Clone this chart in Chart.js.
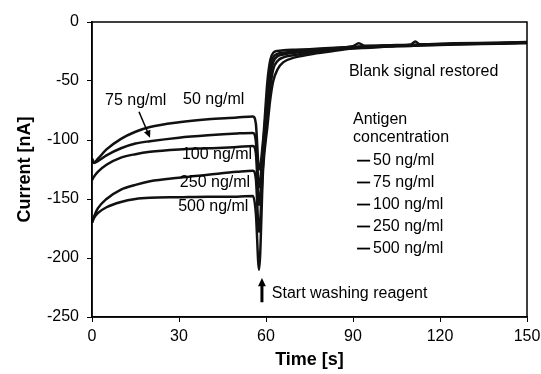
<!DOCTYPE html>
<html>
<head>
<meta charset="utf-8">
<script src="https://cdn.jsdelivr.net/npm/chart.js@4"></script>
<style>
body { margin: 0; background: #fff; }
#wrap { width: 541px; height: 374px; }
</style>
</head>
<body>
<div id="wrap"><canvas id="myChart" width="541" height="374"></canvas></div>
<script>
// time points shared by every curve (s)
var times = [0, 0.7, 2, 5, 10, 15, 20, 30, 40, 50, 55.5, 56.5, 57.6, 59, 60.5, 61.5, 62.5, 64, 66, 70, 75, 82, 90, 92, 94, 105, 110, 111.5, 113, 125, 140, 150];

// current (nA) for each antigen concentration
var conc50  = [-116, -119, -116, -108, -99, -93, -89, -85, -82.5, -81, -80, -86, -125, -100, -50, -32, -26, -24.5, -24, -23.5, -23, -22, -20.5, -18, -20.2, -19.5, -19, -16.5, -18.8, -18, -17.5, -17];
var conc75  = [-116, -119.5, -118, -113, -107, -103, -101, -98, -96, -94.5, -94, -101, -140, -105, -60, -38, -30, -27, -26, -25, -24, -22.5, -21, -20.7, -20.5, -19.8, -19.5, -19.3, -19.2, -18.5, -17.8, -17.3];
var conc100 = [-134, -131, -127, -121, -115, -112, -110, -108, -107, -106, -105, -111, -155, -110, -70, -45, -34, -29, -27.5, -26, -25, -23, -21.5, -21.2, -21, -20, -19.7, -19.5, -19.4, -18.7, -18, -17.5];
var conc250 = [-170, -165, -158, -150, -142, -138, -135, -132, -129.5, -127, -126, -133, -178, -120, -80, -55, -40, -33, -30, -28, -26, -24, -22, -21.7, -21.5, -20.3, -20, -19.8, -19.6, -18.9, -18.2, -17.7];
var conc500 = [-170, -166, -162, -157, -152.5, -150, -149, -148.5, -148, -148, -147.5, -162, -210, -125, -88, -65, -50, -40, -34, -30, -27.5, -25, -22.5, -22.2, -22, -20.6, -20.3, -20.1, -19.9, -19.1, -18.4, -17.9];

var seriesLabels = ['50 ng/ml', '75 ng/ml', '100 ng/ml', '250 ng/ml', '500 ng/ml'];
var seriesValues = [conc50, conc75, conc100, conc250, conc500];

var xTicks = [0, 30, 60, 90, 120, 150];
var yTicks = [0, -50, -100, -150, -200, -250];

var textFont = '16px "Liberation Sans", Arial, sans-serif';

// text notes placed in data coordinates (s, nA)
var notes = [
    { text: '75 ng/ml', x: 4.5, y: -66.5 },
    { text: '50 ng/ml', x: 31.4, y: -66 },
    { text: '100 ng/ml', x: 31, y: -112.7 },
    { text: '250 ng/ml', x: 30.3, y: -136.4 },
    { text: '500 ng/ml', x: 29.7, y: -156.8 },
    { text: 'Blank signal restored', x: 88.6, y: -42.4 },
    { text: 'Antigen', x: 90, y: -83 },
    { text: 'concentration', x: 90, y: -98.3 },
    { text: 'Start washing reagent', x: 62, y: -230.5 }
];

function drawArrow(ctx, x1, y1, x2, y2, head) {
    var ang = Math.atan2(y2 - y1, x2 - x1);
    ctx.beginPath();
    ctx.moveTo(x1, y1);
    ctx.lineTo(x2 - Math.cos(ang) * head * 0.6, y2 - Math.sin(ang) * head * 0.6);
    ctx.stroke();
    ctx.beginPath();
    ctx.moveTo(x2, y2);
    ctx.lineTo(x2 - head * Math.cos(ang - 0.45), y2 - head * Math.sin(ang - 0.45));
    ctx.lineTo(x2 - head * Math.cos(ang + 0.45), y2 - head * Math.sin(ang + 0.45));
    ctx.closePath();
    ctx.fill();
}

// frame, notes, arrows and the little legend inside the plot
const notesPlugin = {
    id: 'notes',
    afterDatasetsDraw(chart) {
        const ctx = chart.ctx;
        const xs = chart.scales.x;
        const ys = chart.scales.y;
        const area = chart.chartArea;
        ctx.save();
        ctx.strokeStyle = '#000';
        ctx.fillStyle = '#000';
        ctx.lineWidth = 1.5;
        ctx.strokeRect(area.left, area.top, area.right - area.left, area.bottom - area.top);

        ctx.font = textFont;
        ctx.textAlign = 'left';
        ctx.textBaseline = 'middle';
        notes.forEach(n => ctx.fillText(n.text, xs.getPixelForValue(n.x), ys.getPixelForValue(n.y)));

        // legend entries
        const legendY = [-117.5, -136, -154.7, -173.3, -192];
        chart.data.datasets.forEach((ds, i) => {
            const py = ys.getPixelForValue(legendY[i]);
            ctx.lineWidth = 1.8;
            ctx.beginPath();
            ctx.moveTo(xs.getPixelForValue(91.4), py);
            ctx.lineTo(xs.getPixelForValue(95.9), py);
            ctx.stroke();
            ctx.fillText(ds.label, xs.getPixelForValue(96.9), py);
        });

        // arrows
        ctx.lineWidth = 1.5;
        drawArrow(ctx, xs.getPixelForValue(16.2), ys.getPixelForValue(-76), xs.getPixelForValue(20), ys.getPixelForValue(-98), 8);
        ctx.lineWidth = 3;
        drawArrow(ctx, xs.getPixelForValue(58.6), ys.getPixelForValue(-237.5), xs.getPixelForValue(58.6), ys.getPixelForValue(-217), 9);
        ctx.restore();
    }
};

const datasets = seriesLabels.map((label, i) => ({
    label: label,
    data: times.map((t, j) => ({ x: t, y: seriesValues[i][j] })),
    borderColor: '#111',
    backgroundColor: '#111',
    borderWidth: 2.5,
    pointRadius: 0,
    cubicInterpolationMode: 'monotone',
    fill: false
}));

const config = {
    type: 'line',
    data: { datasets: datasets },
    options: {
        responsive: false,
        animation: false,
        layout: { padding: { top: 22, right: 14, left: 0, bottom: 0 } },
        plugins: {
            legend: { display: false },
            tooltip: { enabled: false }
        },
        scales: {
            x: {
                type: 'linear',
                min: 0,
                max: 150,
                afterFit(s) { s.height = 57; s.paddingLeft = 0; s.paddingRight = 0; },
                afterBuildTicks(s) { s.ticks = xTicks.map(v => ({ value: v })); },
                grid: { drawOnChartArea: false, drawTicks: true, tickLength: 5, color: '#000' },
                border: { color: '#000', width: 1.5 },
                ticks: { color: '#000', padding: 5, font: { family: '"Liberation Sans", Arial, sans-serif', size: 16 } },
                title: {
                    display: true,
                    text: 'Time [s]',
                    color: '#000',
                    padding: { top: 0, bottom: 3 },
                    font: { family: '"Liberation Sans", Arial, sans-serif', size: 18, weight: 'bold' }
                }
            },
            y: {
                type: 'linear',
                min: -250,
                max: 0,
                afterFit(s) { s.width = 92; s.paddingTop = 0; s.paddingBottom = 0; },
                afterBuildTicks(s) { s.ticks = yTicks.map(v => ({ value: v })); },
                grid: { drawOnChartArea: false, drawTicks: true, tickLength: 5, color: '#000' },
                border: { color: '#000', width: 1.5 },
                ticks: { color: '#000', padding: 8, font: { family: '"Liberation Sans", Arial, sans-serif', size: 16 } },
                title: {
                    display: true,
                    text: 'Current [nA]',
                    color: '#000',
                    padding: { top: 14, bottom: 0 },
                    font: { family: '"Liberation Sans", Arial, sans-serif', size: 18, weight: 'bold' }
                }
            }
        }
    },
    plugins: [notesPlugin]
};

var myChart = new Chart(document.getElementById('myChart'), config);
</script>
</body>
</html>
